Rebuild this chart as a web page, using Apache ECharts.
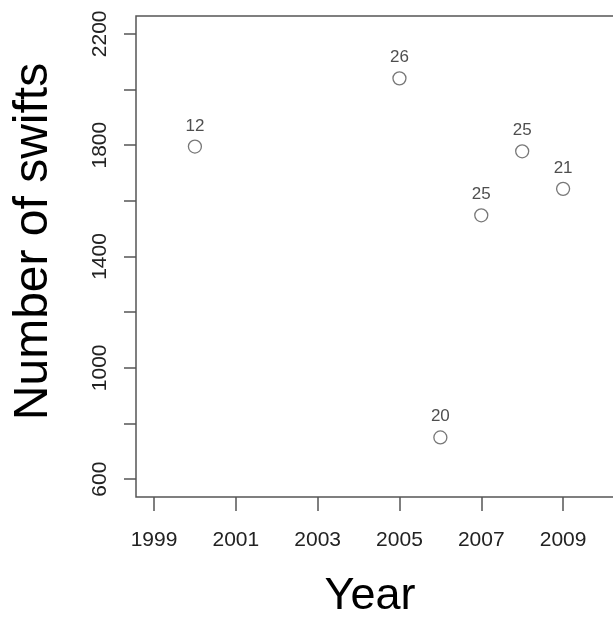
<!DOCTYPE html>
<html>
<head>
<meta charset="utf-8">
<script src="https://cdn.jsdelivr.net/npm/echarts@6/dist/echarts.min.js"></script>
<style>
  html, body { margin: 0; padding: 0; background: #fff; overflow: hidden; }
  /* the plot box runs a little past the right edge of the picture */
  #chart { width: 622px; height: 619px; }
</style>
</head>
<body>
<div id="chart"></div>
<script>
// data
const years = [2000, 2005, 2006, 2007, 2008, 2009]
const swifts = [1795, 2040, 750, 1548, 1778, 1643]
const sampleSize = [12, 26, 20, 25, 25, 21]

// axis ticks / labels
const xTicks = [1999, 2001, 2003, 2005, 2007, 2009]
const yTicks = [600, 800, 1000, 1200, 1400, 1600, 1800, 2000, 2200]
const yLabels = [600, 1000, 1400, 1800, 2200]

const font = '"Liberation Sans", Arial, Helvetica, sans-serif'
const axisGrey = '#555'

const chart = echarts.init(document.getElementById('chart'))

const points = years.map((y, i) => [y, swifts[i], sampleSize[i]])

const option = {
  animation: false,
  grid: {
    left: 136,
    top: 16,
    right: 0,
    bottom: 122,
    outerBoundsMode: 'none', // keep the box where it is, names may sit near the edge
    show: true,
    borderColor: axisGrey,
    borderWidth: 1.5,
    backgroundColor: 'transparent',
  },
  xAxis: {
    type: 'value',
    min: 1998.56,
    max: 2010.44,
    name: 'Year',
    nameLocation: 'middle',
    nameGap: 77,
    nameTextStyle: {
      fontFamily: font,
      fontSize: 45,
      color: '#000',
      padding: [0, 18, 0, 0], // R centres the title on the page, not the box
    },
    axisLine: { show: false },
    splitLine: { show: false },
    axisTick: {
      show: true,
      length: 14,
      customValues: xTicks,
      lineStyle: { color: axisGrey, width: 1.5 },
    },
    axisLabel: {
      customValues: xTicks,
      margin: 33,
      formatter: (v) => String(v),
      fontFamily: font,
      fontSize: 21,
      color: '#222',
    },
  },
  yAxis: {
    type: 'value',
    min: 536,
    max: 2264,
    name: 'Number of swifts',
    nameLocation: 'middle',
    nameGap: 78,
    nameTextStyle: {
      fontFamily: font,
      fontSize: 48,
      color: '#000',
      padding: [0, 0, 0, 30],
    },
    axisLine: { show: false },
    splitLine: { show: false },
    axisTick: {
      show: true,
      length: 12,
      customValues: yTicks,
      lineStyle: { color: axisGrey, width: 1.5 },
    },
    axisLabel: {
      customValues: yLabels,
      rotate: 90,
      margin: 25,
      formatter: (v) => String(v),
      fontFamily: font,
      fontSize: 21,
      color: '#222',
    },
  },
  series: [
    {
      type: 'scatter',
      data: points,
      symbol: 'circle',
      symbolSize: 13,
      itemStyle: {
        color: 'transparent',
        borderColor: '#555',
        borderWidth: 1.3,
      },
      label: {
        show: true,
        position: 'top',
        distance: 5,
        formatter: (p) => String(p.value[2]),
        fontFamily: font,
        fontSize: 17,
        color: '#222',
      },
    },
  ],
}

chart.setOption(option)
</script>
</body>
</html>
